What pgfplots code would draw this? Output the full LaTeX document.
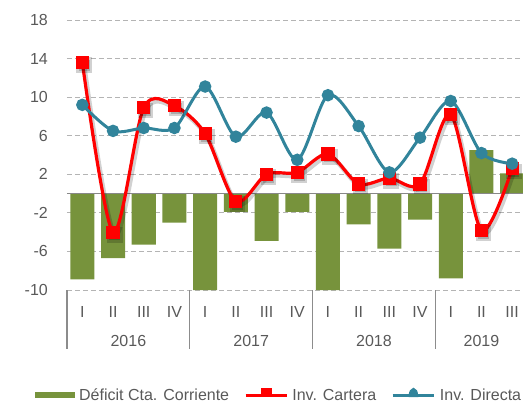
\documentclass[border=0pt]{standalone}
\usepackage{fontspec}
\setmainfont{Liberation Sans}
\usepackage{pgfplots}
\pgfplotsset{compat=1.18}
\usepackage{pgfplotstable}
\definecolor{barg}{HTML}{77933C}
\definecolor{tealc}{HTML}{31849B}
\definecolor{txt}{HTML}{595959}
\definecolor{gridc}{HTML}{B4B4B4}
\definecolor{zeroc}{HTML}{888888}
\definecolor{sepc}{HTML}{8C8C8C}

\pgfplotstableread{
i bar cart dir
0 -8.9 13.6 9.2
1 -6.7 -4.0 6.5
2 -5.3 8.9 6.8
3 -3.0 9.1 6.8
4 -10.0 6.2 11.1
5 -1.9 -0.8 5.9
6 -4.9 2.0 8.4
7 -1.9 2.2 3.5
8 -10.0 4.1 10.2
9 -3.2 1.0 7.0
10 -5.7 1.6 2.2
11 -2.7 1.0 5.8
12 -8.8 8.2 9.6
13 4.5 -3.8 4.2
14 2.1 2.6 3.1
}\data

\begin{document}
\begin{tikzpicture}[font=\fontsize{16pt}{19pt}\selectfont]
\path[use as bounding box] (0,0) rectangle (523pt,405pt);
\clip (0,0) rectangle (523pt,405pt);
\begin{axis}[
  at={(67pt,115pt)}, anchor=south west,
  scale only axis, width=460.5pt, height=270pt,
  xmin=-0.5, xmax=14.5, ymin=-10, ymax=18,
  ytick={-10,-6,-2,2,6,10,14,18},
  yticklabels={-10,-6,-2,2,6,10,14,18},
  xtick={0,...,14},
  xticklabels={I,II,III,IV,I,II,III,IV,I,II,III,IV,I,II,III},
  major tick length=0pt,
  axis line style={draw=none},
  ymajorgrids,
  grid style={dash pattern=on 5pt off 3pt, color=gridc, line width=1pt},
  yticklabel style={anchor=east, inner sep=0pt, xshift=-19pt, text=txt},
  xticklabel style={anchor=center, inner sep=0pt, yshift=-21.7pt, text=txt},
  clip=false,
  legend columns=3,
  legend cell align=left,
  legend style={at={(axis description cs:-0.0695,-0.3890)}, anchor=west,
    draw=none, fill=none, inner sep=0pt, outer sep=0pt,
    nodes={inner sep=0pt, text=txt},
    /tikz/every odd column/.append style={column sep=4.2pt},
    /tikz/every even column/.append style={column sep=15pt}},
]
\addplot[ybar, bar width=24pt, bar shift=0pt, fill=barg, draw=none,
  legend image code/.code={\fill[barg] (0pt,-2.5pt) rectangle (40pt,3.5pt);}]
  table[x=i,y=bar]{\data};
\draw[color=zeroc, line width=1.5pt] (axis cs:-0.5,0) -- (axis cs:14.5,0);
\addplot[smooth, forget plot, color=black, opacity=0.18, line width=4.5pt,
  mark=square*, mark size=5.5pt, xshift=1.8pt, yshift=-2.8pt]
  table[x=i,y=cart]{\data};
\addplot[smooth, color=red, line width=3.2pt, mark=square*, mark size=5pt,
  legend image code/.code={\draw[red, line width=3pt] (0pt,0pt) -- (41pt,0pt);
    \fill[red] (16.5pt,0pt) rectangle (24.5pt,6pt);}]
  table[x=i,y=cart]{\data};
\addplot[smooth, color=tealc, line width=3pt, mark=*, mark size=4.7pt,
  legend image code/.code={\draw[tealc, line width=3pt] (0pt,0pt) -- (41.5pt,0pt);
    \fill[tealc] (17.5pt,0pt) arc[start angle=180, end angle=0, x radius=3.2pt, y radius=6pt] -- cycle;}]
  table[x=i,y=dir]{\data};
\draw[sepc, line width=1.2pt] (axis cs:-0.5,-10) -- ++(0pt,-59pt);
\draw[sepc, line width=1.2pt] (axis cs:3.5,-10) -- ++(0pt,-59pt);
\draw[sepc, line width=1.2pt] (axis cs:7.5,-10) -- ++(0pt,-59pt);
\draw[sepc, line width=1.2pt] (axis cs:11.5,-10) -- ++(0pt,-59pt);
\node[text=txt, yshift=-51pt] at (axis cs:1.5,-10) {2016};
\node[text=txt, yshift=-51pt] at (axis cs:5.5,-10) {2017};
\node[text=txt, yshift=-51pt] at (axis cs:9.5,-10) {2018};
\node[text=txt, yshift=-51pt] at (axis cs:13,-10) {2019};
\legend{Déficit Cta. Corriente, Inv. Cartera, Inv. Directa}
\end{axis}
\end{tikzpicture}
\end{document}
